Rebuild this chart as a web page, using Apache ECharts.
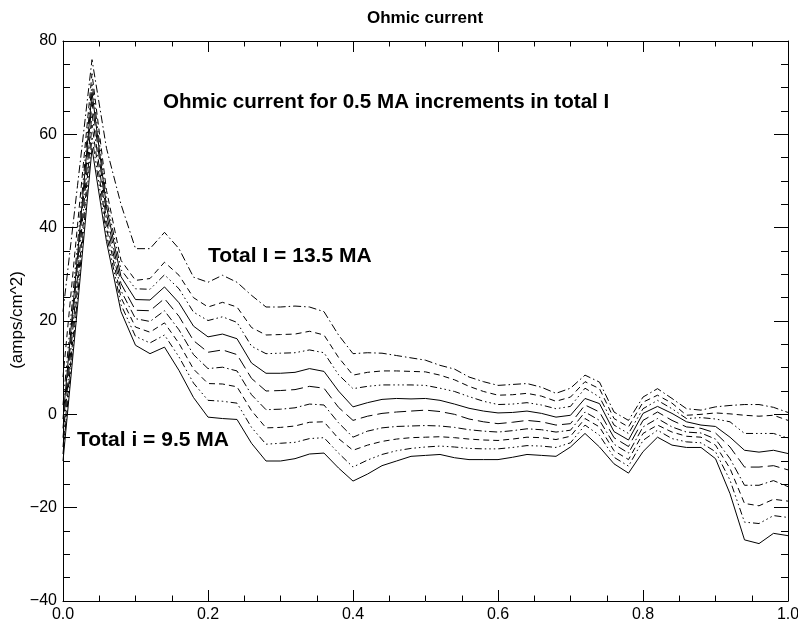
<!DOCTYPE html>
<html><head><meta charset="utf-8">
<script src="https://cdn.jsdelivr.net/npm/echarts@6/dist/echarts.min.js"></script>
<style>html,body{margin:0;padding:0;background:#fff}#c{width:798px;height:628px}</style>
</head><body><div id="c"></div>
<script>
// x positions (normalised radius)
const xValues = [0,0.02,0.04,0.06,0.08,0.10,0.12,0.14,0.16,0.18,0.20,0.22,0.24,0.26,0.28,0.30,0.32,0.34,0.36,0.38,0.40,0.42,0.44,0.46,0.48,0.50,0.52,0.54,0.56,0.58,0.60,0.62,0.64,0.66,0.68,0.70,0.72,0.74,0.76,0.78,0.80,0.82,0.84,0.86,0.88,0.90,0.92,0.94,0.96,0.98,1.00];

// Ohmic current (amps/cm^2) for total I = 9.5 ... 13.5 MA
const cur95  = [-10,23,57,37,22,14.8,13,14.4,9.4,3.6,-0.6,-0.9,-1.1,-6.2,-10,-10,-9.5,-8.5,-8.3,-11.5,-14.3,-12.8,-11,-10,-9,-8.8,-8.6,-9.3,-9.7,-9.7,-9.7,-9.2,-8.6,-8.8,-9,-7,-4.1,-7,-10.6,-12.6,-8,-4.9,-6.6,-7.1,-7.1,-9.5,-17,-26.9,-27.7,-25.5,-26];
const cur100 = [-8.5,25,59.5,38.5,23.5,16.7,15.3,17,12.3,6.7,3,2.8,2.4,-2.8,-6.4,-6.2,-6,-5.2,-5,-8.3,-11.3,-9.8,-8.6,-7.8,-7.3,-7,-6.8,-7,-7.3,-7.4,-7.4,-7.1,-6.7,-6.8,-7.1,-6.1,-2.3,-4.5,-9.2,-11.1,-5.6,-3.4,-5.2,-5.9,-6.1,-8,-14.1,-23.1,-23.4,-21.7,-22.1];
const cur105 = [-7,27,62,40,25,18.7,17.6,19.6,15.2,9.7,6.6,6.5,5.9,0.8,-2.9,-2.8,-2.5,-1.7,-1.6,-5.2,-7.7,-6.6,-5.8,-5.3,-5,-4.9,-4.8,-5,-5.3,-5.5,-5.6,-5.3,-4.9,-5,-5.4,-4.7,-0.9,-2.7,-7.8,-9.7,-4.1,-2.3,-3.8,-4.7,-4.9,-6.6,-11.6,-19.1,-19.6,-18.2,-18.6];
const cur110 = [-5,29.5,64.5,41.5,26.5,20.5,19.9,22.2,18.1,12.8,9.8,10.1,9.3,4.2,1,1.1,1.4,2.2,2,-1.8,-4.9,-3.6,-2.9,-2.6,-2.5,-2.4,-2.5,-2.8,-3.3,-3.6,-3.8,-3.5,-3.1,-3.3,-3.8,-3.4,0.5,-1.3,-6.4,-8.3,-2.7,-0.9,-2.7,-3.8,-4,-5.3,-9.5,-15.2,-15.2,-14.2,-15.5];
const cur115 = [-3,32,67,43,28,22.3,22.2,24.8,21,15.8,13.3,13.8,12.8,7.7,5,5.1,5.3,6,5.6,1.5,-1.3,-0.4,0.2,0.5,0.7,0.9,0.6,0,-1,-1.6,-2,-1.7,-1.3,-1.6,-2.3,-2,2,0.5,-5,-6.9,-1.3,0.5,-1.3,-2.7,-3,-4,-7,-11.3,-11.3,-11,-11.9];
const cur120 = [-1,34,69,44.5,29.5,24.6,24.5,27.3,23.9,18.9,16.6,17.2,16.2,11,8.8,8.8,9,9.8,9.2,5,1.6,2.5,3.2,3.4,3.3,3.4,3,2.2,1.3,0.7,0.3,0.4,0.7,0.2,-0.6,-0.2,3.4,2.3,-3.7,-5.5,0.2,1.7,0.2,-1.6,-2.3,-2.6,-4.9,-7.7,-8.1,-7.7,-8.4];
const cur125 = [2,36.5,71,46,31,26.9,26.8,29.9,26.9,21.9,20.1,20.9,19.7,14.6,13,13.1,13.2,13.8,13.2,8.5,5.5,6,6.3,6.3,6.3,6.2,5.6,4.9,3.8,2.8,2.1,2.2,2.5,2,1.2,1.7,5.6,3.7,-2.3,-4.1,1.2,3,1.2,-0.9,-0.7,-1,-1.6,-4.1,-4.1,-4.1,-5.1];
const cur130 = [8,40.5,73,48,33,28.7,29.1,32.6,29.8,25,23,24,23,18.6,17,17.1,17.2,17.8,17,12.2,8.4,9,9.3,9.3,9.2,9.1,8.4,7.4,6,4.9,4.1,4.2,4.5,3.9,2.8,3.7,7,5.5,-0.9,-2.7,2.6,4.1,2.4,-0.2,0,0.3,0.1,-0.2,-0.4,-0.2,-1.3];
const cur135 = [22,49,76,57,45,35.5,35.5,39,35.5,29.4,28.3,29.8,28.3,25.5,23,23,23.2,23,22,17,13,13.2,13.1,12.6,12.1,11.6,10.5,9.7,8,7,6.2,6.4,6.6,5.8,4.5,5.6,8.4,6.9,0.5,-1.3,3.7,5.5,3.4,1.2,0.9,1.6,1.9,2.1,2.1,1.5,0.4];

const curveNames = ['9.5 MA','10.0 MA','10.5 MA','11.0 MA','11.5 MA','12.0 MA','12.5 MA','13.0 MA','13.5 MA'];
const curveValues = [cur95,cur100,cur105,cur110,cur115,cur120,cur125,cur130,cur135];

const xTickLabels = ['0.0','0.2','0.4','0.6','0.8','1.0'];
const yTickLabels = ['\u221240','\u221220','0','20','40','60','80'];

const titleText = 'Ohmic current';
const yAxisTitle = '(amps/cm^2)';
const note1 = 'Ohmic current for 0.5 MA increments in total I';
const note2 = 'Total I = 13.5 MA';
const note3 = 'Total i = 9.5 MA';

// IDL-like linestyles cycling: solid, dash-dot-dot-dot, dashed, dash-dot, long dashes
const styleCycle = ['solid',[7,3,1.5,3,1.5,3,1.5,3],[6,4],[8,3,1.5,3],[12,5]];

const FONT = '"Liberation Sans", Arial, Helvetica, sans-serif';
const chart = echarts.init(document.getElementById('c'), null, {renderer:'canvas'});

function xAxisCfg(pos, showLabel){
  return {
    type:'value', position:pos, min:0, max:1, interval:0.2,
    axisLine:{show:true, onZero:false, lineStyle:{color:'#000', width:1}},
    axisTick:{show:true, inside:true, length:11, lineStyle:{color:'#000', width:1}},
    minorTick:{show:true, splitNumber:4, length:5.5, lineStyle:{color:'#000', width:1}},
    splitLine:{show:false}, minorSplitLine:{show:false},
    axisLabel:{show:showLabel, margin:6, color:'#000', fontSize:16, fontFamily:FONT,
      formatter:function(v){ const i=Math.round(v/0.2); return xTickLabels[i]; }}
  };
}
function yAxisCfg(pos, showLabel){
  return {
    type:'value', position:pos, min:-40, max:80, interval:20,
    axisLine:{show:true, onZero:false, lineStyle:{color:'#000', width:1}},
    axisTick:{show:true, inside:true, length:14, lineStyle:{color:'#000', width:1}},
    minorTick:{show:true, splitNumber:4, length:7, lineStyle:{color:'#000', width:1}},
    splitLine:{show:false}, minorSplitLine:{show:false},
    axisLabel:{show:showLabel, margin:6, color:'#000', fontSize:16, fontFamily:FONT,
      formatter:function(v){ const i=Math.round((v+40)/20); return yTickLabels[i]; }}
  };
}

const series = curveValues.map(function(vals, k){
  return {
    name: curveNames[k], type:'line', xAxisIndex:0, yAxisIndex:0,
    data: xValues.map(function(x,i){ return [x, vals[i]]; }),
    showSymbol:false, symbol:'none', smooth:false, silent:true,
    lineStyle:{color:'#000', width:1, type: styleCycle[k % 5]},
    z: 2
  };
});

chart.setOption({
  animation:false,
  backgroundColor:'#fff',
  grid:{left:63, right:10, top:41, bottom:27, containLabel:false, outerBoundsMode:'none'},
  xAxis:[xAxisCfg('bottom', true), xAxisCfg('top', false)],
  yAxis:[yAxisCfg('left', true), yAxisCfg('right', false)],
  series: series,
  graphic:[
    {type:'text', x:425, y:18, style:{text:titleText, align:'center', verticalAlign:'middle', font:'bold 17px '+FONT, fill:'#000'}},
    {type:'text', x:17, y:320, rotation:Math.PI/2, style:{text:yAxisTitle, align:'center', verticalAlign:'middle', font:'17px '+FONT, fill:'#000'}},
    {type:'text', x:163, y:102, style:{text:note1, align:'left', verticalAlign:'middle', font:'bold 20.6px '+FONT, fill:'#000'}},
    {type:'text', x:208, y:256, style:{text:note2, align:'left', verticalAlign:'middle', font:'bold 21px '+FONT, fill:'#000'}},
    {type:'text', x:77, y:440, style:{text:note3, align:'left', verticalAlign:'middle', font:'bold 21px '+FONT, fill:'#000'}}
  ]
});
</script></body></html>
